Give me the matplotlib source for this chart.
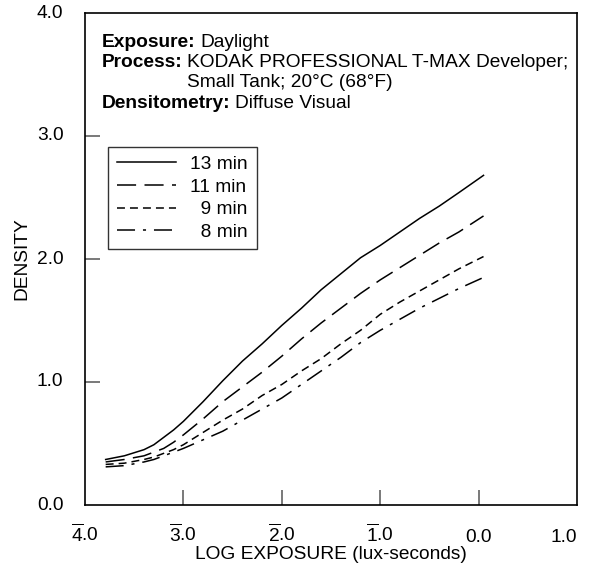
import matplotlib
matplotlib.use('Agg')
import matplotlib.pyplot as plt

plt.rcParams['font.family'] = ['Liberation Sans', 'DejaVu Sans']
plt.rcParams['mathtext.fontset'] = 'custom'
plt.rcParams['mathtext.rm'] = 'Liberation Sans'
plt.rcParams['mathtext.it'] = 'Liberation Sans:italic'
plt.rcParams['mathtext.bf'] = 'Liberation Sans:bold'

# log exposure (bar notation on the axis)
log_e = [-3.79, -3.6, -3.4, -3.3, -3.2, -3.1, -3.0, -2.8, -2.6, -2.4, -2.2, -2.0,
         -1.8, -1.6, -1.4, -1.2, -1.0, -0.8, -0.6, -0.4, -0.2, 0.05]
d_13 = [0.37, 0.40, 0.45, 0.49, 0.55, 0.61, 0.68, 0.84, 1.01, 1.17, 1.31, 1.46,
        1.60, 1.75, 1.88, 2.01, 2.11, 2.22, 2.33, 2.43, 2.54, 2.68]
d_11 = [0.35, 0.37, 0.40, 0.43, 0.46, 0.51, 0.57, 0.70, 0.84, 0.96, 1.08, 1.21,
        1.35, 1.48, 1.60, 1.72, 1.83, 1.93, 2.03, 2.13, 2.22, 2.35]
d_9 = [0.33, 0.34, 0.37, 0.39, 0.42, 0.45, 0.49, 0.59, 0.69, 0.78, 0.89, 0.98,
       1.09, 1.19, 1.31, 1.42, 1.55, 1.65, 1.74, 1.83, 1.92, 2.02]
d_8 = [0.31, 0.32, 0.35, 0.37, 0.40, 0.43, 0.46, 0.53, 0.60, 0.69, 0.78, 0.87,
       0.98, 1.09, 1.20, 1.32, 1.42, 1.51, 1.60, 1.68, 1.76, 1.85]
series_labels = ['13 min', '11 min', '\u20079 min', '\u20078 min']

x_ticks = [-4, -3, -2, -1, 0, 1]
x_ticklabels = [r'$\overline{4}$.0', r'$\overline{3}$.0', r'$\overline{2}$.0',
                r'$\overline{1}$.0', '0.0', '1.0']
y_ticks = [0, 1, 2, 3, 4]
y_ticklabels = ['0.0', '1.0', '2.0', '3.0', '4.0']

fs = 13.8
fig = plt.figure(figsize=(5.89, 5.76), dpi=100)
ax = fig.add_axes([85 / 589, 71 / 576, 492 / 589, 492 / 576])

styles = [dict(linestyle='-'),
          dict(dashes=(12.5, 5.5)),
          dict(dashes=(5.2, 3.3)),
          dict(dashes=(11.8, 5.2, 2, 5.2))]
for d, lab, st in zip([d_13, d_11, d_9, d_8], series_labels, styles):
    ax.plot(log_e, d, color='black', lw=1.1, label=lab, **st)

ax.set_xlim(-4, 1)
ax.set_ylim(0, 4)
ax.set_xticks(x_ticks[1:-1])
ax.set_xticklabels([])
ax.set_yticks(y_ticks[1:-1])
ax.set_yticklabels([])
ax.tick_params(direction='in', length=11, width=1.1, color='#555555')
for s in ax.spines.values():
    s.set_linewidth(1.2)

# tick labels drawn as text so the end labels sit at the axis corners
for xv, lab in zip(x_ticks, x_ticklabels):
    ha = 'right' if xv == x_ticks[-1] else 'center'
    ax.text(xv, -37 / 492, lab, ha=ha, va='baseline', fontsize=fs,
            transform=ax.get_xaxis_transform())
for yv, lab in zip(y_ticks, y_ticklabels):
    ax.text(-4.22, yv, lab, ha='right', va='center', fontsize=fs)

ax.set_xlabel('LOG EXPOSURE (lux-seconds)', fontsize=fs)
ax.xaxis.set_label_coords(0.5, -0.083)
ax.set_ylabel('DENSITY', fontsize=fs)
ax.yaxis.set_label_coords(-0.112, 0.5)

# info block
t1 = ax.text(0.035, (505 - 47) / 492, 'Exposure:', transform=ax.transAxes,
             fontsize=fs, fontweight='bold', va='baseline', ha='left')
ax.annotate('Daylight', xy=(1, 0), xycoords=t1, xytext=(3, 0),
            textcoords='offset points', fontsize=fs, va='bottom', ha='left')
t2 = ax.text(0.035, (505 - 67) / 492, 'Process:', transform=ax.transAxes,
             fontsize=fs, fontweight='bold', va='baseline', ha='left')
t2b = ax.annotate('KODAK PROFESSIONAL T-MAX Developer;', xy=(1, 0), xycoords=t2,
                  xytext=(3, 0), textcoords='offset points', fontsize=fs,
                  va='bottom', ha='left')
ax.annotate('Small Tank; 20°C (68°F)', xy=(0, 0), xycoords=t2b,
            xytext=(0, -14.6), textcoords='offset points', fontsize=fs,
            va='bottom', ha='left')
t3 = ax.text(0.035, (505 - 108) / 492, 'Densitometry:', transform=ax.transAxes,
             fontsize=fs, fontweight='bold', va='baseline', ha='left')
ax.annotate('Diffuse Visual', xy=(1, 0), xycoords=t3, xytext=(3, 0),
            textcoords='offset points', fontsize=fs, va='bottom', ha='left')

leg = ax.legend(loc='upper left', bbox_to_anchor=(23 / 492, 1 - 134 / 492),
                borderaxespad=0, fontsize=fs, frameon=True, fancybox=False,
                edgecolor='black', handlelength=3.1, handletextpad=0.75,
                labelspacing=0.27, borderpad=0.45)
leg.get_frame().set_linewidth(1.0)

fig.savefig('out.png', dpi=100)
